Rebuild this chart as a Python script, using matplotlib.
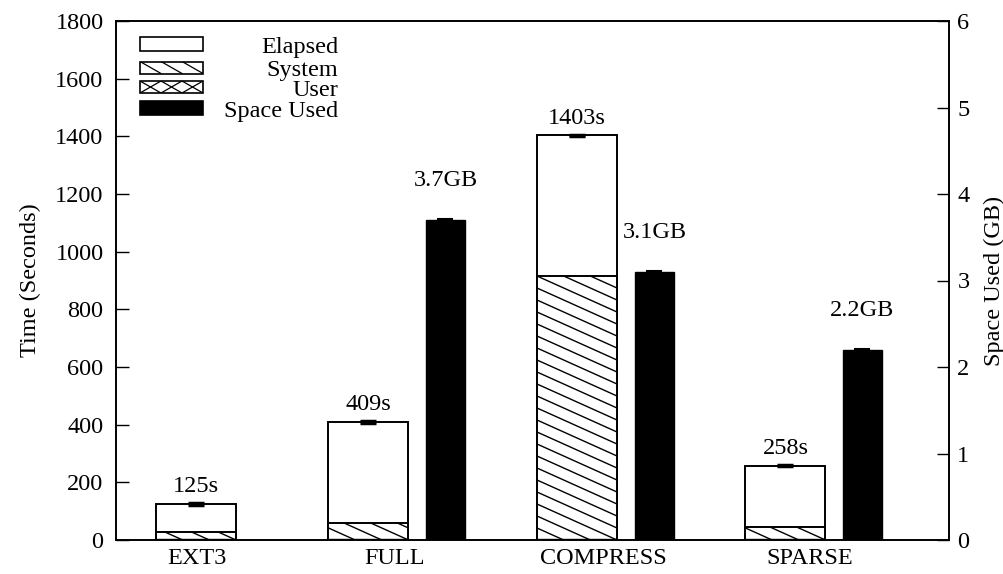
#!/usr/bin/env python3
import numpy as np
import matplotlib
matplotlib.use("Agg")
import matplotlib.pyplot as plt
from matplotlib.patches import Rectangle
from matplotlib.lines import Line2D

plt.rcParams['font.family'] = ['Liberation Serif', 'DejaVu Serif']
FS = 17.5

# data
categories = ["EXT3", "FULL", "COMPRESS", "SPARSE"]
elapsed = [125, 409, 1403, 258]
system = [27, 58, 916, 45]
user = [2, 2, 3, 2]
elapsed_err = [3, 3, 3, 3]
space_cats = ["FULL", "COMPRESS", "SPARSE"]
space_gb = [3.7, 3.1, 2.2]
space_err = [0.01, 0.01, 0.01]

# layout (x axis in pixel-like units, 833 wide)
XMAX = 833.0
YMAX = 1800.0
PX_PER_Y = 519.0 / YMAX
tick_pos = [81, 279, 487, 694]
time_pos = [80, 252.5, 461, 669.5]
space_pos = [329.5, 538.5, 746.5]
time_w = 80
space_w = 39


def hatch_lines(ax, x0, w, h, slope=0.45, gap=12.0, lw=1.0, clip=None):
    # shallow "\" lines clipped to the bar, slope given in pixels
    dy = gap / PX_PER_Y
    s = slope / PX_PER_Y
    k = np.arange(0, (h + w * s) / dy + 2)
    for kk in k:
        y_left = kk * dy
        ln = Line2D([x0, x0 + w], [y_left, y_left - w * s], color='black', lw=lw, zorder=3)
        ax.add_line(ln)
        if clip is not None:
            ln.set_clip_path(clip)


fig = plt.figure(figsize=(10.04, 5.74), dpi=100)
ax = fig.add_axes([116 / 1004, 34 / 574, 833 / 1004, 519 / 574])
ax2 = ax.twinx()

for i, c in enumerate(categories):
    x = time_pos[i]
    r = Rectangle((x - time_w / 2, 0), time_w, elapsed[i], facecolor='white', edgecolor='black', lw=1.4, zorder=2)
    ax.add_patch(r)
    rs = Rectangle((x - time_w / 2, 0), time_w, system[i], facecolor='white', edgecolor='black', lw=1.4, zorder=2.5)
    ax.add_patch(rs)
    hatch_lines(ax, x - time_w / 2, time_w, system[i], clip=rs)
    ru = Rectangle((x - time_w / 2, 0), time_w, user[i], facecolor='white', edgecolor='black', lw=1.0, zorder=4)
    ax.add_patch(ru)
    ax.errorbar([x], [elapsed[i]], yerr=[elapsed_err[i]], fmt='none', ecolor='black',
                elinewidth=1, capsize=6, capthick=2.5, zorder=5)
    ax.annotate("%ds" % elapsed[i], (x, elapsed[i] + elapsed_err[i]), xytext=(0, 6),
                textcoords='offset pixels', ha='center', va='bottom', fontsize=FS)

ax2.bar(space_pos, space_gb, width=space_w, color='black', edgecolor='black', zorder=2)
ax2.errorbar(space_pos, space_gb, yerr=space_err, fmt='none', ecolor='black',
             elinewidth=1, capsize=6, capthick=1.5, zorder=5)
for x, v, e in zip(space_pos, space_gb, space_err):
    ax2.annotate("%.1fGB" % v, (x, v + e), xytext=(0, 28), textcoords='offset pixels',
                 ha='center', va='bottom', fontsize=FS)

ax.set_xlim(0, XMAX)
ax.set_ylim(0, YMAX)
ax2.set_ylim(0, 6)
ax.set_yticks(np.arange(0, 1801, 200))
ax2.set_yticks(np.arange(0, 7, 1))
ax.set_xticks(tick_pos)
ax.set_xticklabels(categories)
ax.tick_params(axis='x', length=0, pad=6, labelsize=FS)
ax.tick_params(axis='y', direction='in', length=9, width=1, pad=9, labelsize=FS)
ax2.tick_params(axis='y', direction='in', length=9, width=1, pad=6, labelsize=FS)
ax.set_ylabel("Time (Seconds)", fontsize=FS, labelpad=10)
ax2.set_ylabel("Space Used (GB)", fontsize=FS, labelpad=10)
for a in (ax, ax2):
    for sp in a.spines.values():
        sp.set_linewidth(1.2)


# legend, gnuplot style: sample box on the left, text right aligned
def axf(px, py):
    return (px - 116) / 833.0, (540 - py) / 519.0


leg_rows = [("Elapsed", 44), ("System", 67.5), ("User", 87), ("Space Used", 108)]
for name, cy in leg_rows:
    h = 14 if name in ("Elapsed", "Space Used") else 12
    x0, y0 = axf(140, cy + h / 2)
    w = 63 / 833.0
    hh = h / 519.0
    fc = 'black' if name == "Space Used" else 'white'
    box = Rectangle((x0, y0), w, hh, transform=ax.transAxes, facecolor=fc, edgecolor='black', lw=1.2, zorder=6)
    ax.add_patch(box)
    if name in ("System", "User"):
        for j in range(-1, 4):
            xa = x0 + j * w / 3
            ln = Line2D([xa, xa + w / 3], [y0 + hh, y0], transform=ax.transAxes, color='black', lw=0.9, zorder=7)
            ax.add_line(ln)
            ln.set_clip_path(box)
            if name == "User":
                ln2 = Line2D([xa, xa + w / 3], [y0, y0 + hh], transform=ax.transAxes, color='black', lw=0.9, zorder=7)
                ax.add_line(ln2)
                ln2.set_clip_path(box)
    tx, ty = axf(338, cy + 3)
    ax.text(tx, ty, name, transform=ax.transAxes, ha='right', va='center', fontsize=FS, zorder=7)

fig.savefig("out.png", dpi=100)
